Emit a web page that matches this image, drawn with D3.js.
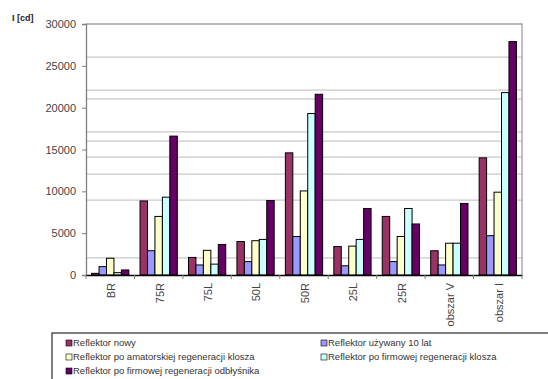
<!DOCTYPE html>
<html>
<head>
<meta charset="utf-8">
<script src="https://cdn.jsdelivr.net/npm/d3@7"></script>
<style>
  body { margin: 0; background: #fff; }
  svg { display: block; font-family: "Liberation Sans", Arial, sans-serif; }
</style>
</head>
<body>
<div id="chart"></div>
<script>
// data
const categories = ['BR', '75R', '75L', '50L', '50R', '25L', '25R', 'obszar  V', 'obszar I'];
const seriesNames = [
  'Reflektor nowy',
  'Reflektor używany 10 lat',
  'Reflektor po amatorskiej regeneracji klosza',
  'Reflektor po firmowej regeneracji klosza',
  'Reflektor po firmowej regeneracji odbłyśnika'
];
const nowy       = [200, 8850, 2100, 4000, 14600, 3400, 7000, 2900, 14000];
const uzywany    = [1000, 2900, 1200, 1600, 4600, 1100, 1600, 1200, 4700];
const amatorska  = [2000, 7000, 2950, 4100, 10050, 3450, 4600, 3800, 9900];
const firmowaKl  = [280, 9300, 1300, 4250, 19300, 4250, 7950, 3800, 21800];
const firmowaOdb = [600, 16600, 3650, 8900, 21600, 7950, 6100, 8550, 27900];
const yTicks = [0, 5000, 10000, 15000, 20000, 25000, 30000];
// the scanned chart has its grid lines off the tick values
const gridValues = [2050, 8950, 12050, 14100, 16000, 17100, 21050, 22100, 26050];

const colors = ['#993366', '#9999ff', '#ffffcc', '#ccffff', '#660066'];
const allSeries = [nowy, uzywany, amatorska, firmowaKl, firmowaOdb];

const W = 548, H = 379;
const plot = {left: 86, right: 522, top: 24, bottom: 275};

const svg = d3.select('#chart').append('svg')
  .attr('width', W).attr('height', H);

const x0 = d3.scaleBand().domain(categories).range([plot.left, plot.right]);
const x1 = d3.scaleBand().domain(d3.range(seriesNames.length))
  .range([0, x0.bandwidth()]).paddingInner(0).paddingOuter(0.75);
const y = d3.scaleLinear().domain([0, 30000]).range([plot.bottom, plot.top]);

// grid
svg.append('g').selectAll('line').data(gridValues).join('line')
  .attr('x1', plot.left).attr('x2', plot.right)
  .attr('y1', d => y(d)).attr('y2', d => y(d))
  .attr('stroke', '#c8c8c8').attr('stroke-width', 1.3);

// plot border (top and right)
svg.append('path')
  .attr('d', `M${plot.left},${y(30000)}H${plot.right}V${plot.bottom}`)
  .attr('fill', 'none').attr('stroke', '#a0a0a0').attr('stroke-width', 1.3);

// bars
const groups = svg.append('g').selectAll('g').data(allSeries).join('g')
  .attr('fill', (d, i) => colors[i]);
groups.each(function(vals, si) {
  d3.select(this).selectAll('rect').data(vals).join('rect')
    .attr('x', (d, ci) => x0(categories[ci]) + x1(si))
    .attr('y', d => y(d))
    .attr('width', x1.bandwidth())
    .attr('height', d => y(0) - y(d))
    .attr('stroke', '#000').attr('stroke-width', 1);
});

// y axis
const yAxis = svg.append('g')
  .attr('transform', `translate(${plot.left},0)`)
  .call(d3.axisLeft(y).tickValues(yTicks).tickSize(4).tickPadding(6).tickFormat(d3.format('d')));
yAxis.select('.domain').attr('stroke', '#808080').attr('stroke-width', 1.3);
yAxis.selectAll('.tick line').attr('stroke', '#808080');
yAxis.selectAll('.tick text').attr('font-size', 11).attr('fill', '#444')
  .attr('font-family', '"Liberation Sans", Arial, sans-serif');

// x axis
const xAxis = svg.append('g')
  .attr('transform', `translate(0,${plot.bottom})`)
  .call(d3.axisBottom(x0).tickSize(0).tickFormat(''));
xAxis.select('.domain').attr('stroke', '#000').attr('stroke-width', 1.5);
// separators between categories
svg.append('g').selectAll('line').data(categories.concat(['end'])).join('line')
  .attr('x1', (d, i) => plot.left + i * x0.step())
  .attr('x2', (d, i) => plot.left + i * x0.step())
  .attr('y1', plot.bottom).attr('y2', plot.bottom + 4)
  .attr('stroke', '#808080');
svg.append('g').selectAll('text').data(categories).join('text')
  .attr('transform', d => `translate(${x0(d) + x0.bandwidth() / 2 + 1},${plot.bottom + 8}) rotate(-90)`)
  .attr('text-anchor', 'end').attr('dy', '0.35em')
  .attr('font-size', 11).attr('fill', '#444')
  .text(d => d);

// axis title
svg.append('text').attr('x', 12).attr('y', 21)
  .attr('font-size', 9).attr('font-weight', 'bold').attr('fill', '#222')
  .text('I [cd]');

// legend
const leg = svg.append('g');
leg.append('rect').attr('x', 52).attr('y', 333).attr('width', 520).attr('height', 80)
  .attr('fill', '#fff').attr('stroke', '#000').attr('stroke-width', 1);
const rowY = [343, 357, 371];
const legPos = seriesNames.map((n, i) => ({
  name: n, i: i,
  x: i % 2 === 0 ? 66 : 321,
  y: rowY[Math.floor(i / 2)]
}));
const items = leg.selectAll('g').data(legPos).join('g')
  .attr('transform', d => `translate(${d.x},${d.y})`);
items.append('rect').attr('x', 0).attr('y', -3).attr('width', 6).attr('height', 6)
  .attr('fill', d => colors[d.i]).attr('stroke', '#000').attr('stroke-width', 0.6);
items.append('text').attr('x', 7).attr('dy', '0.35em')
  .attr('font-size', 9.5).attr('fill', '#333')
  .text(d => d.name);
</script>
</body>
</html>
